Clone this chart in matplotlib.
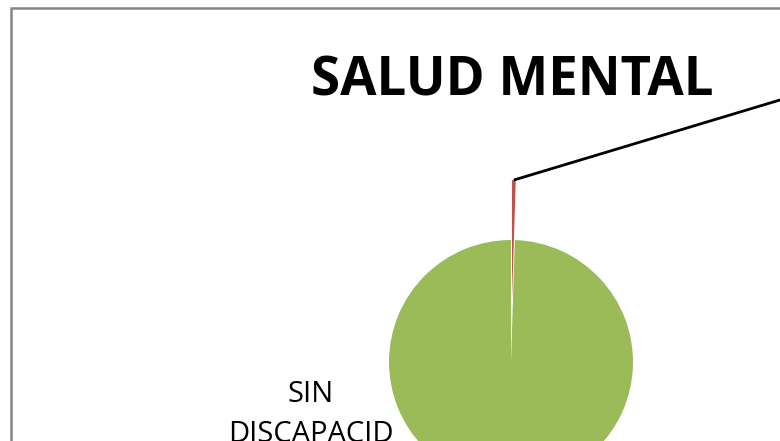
import numpy as np
import matplotlib.pyplot as plt
from matplotlib.patches import Rectangle

# datos del gráfico (porcentaje)
categorias = ["CON DISCAPACIDAD", "SIN DISCAPACIDAD"]
valores = [0.5, 99.5]
colores = ["#C0504D", "#9BBB59"]
titulo = "SALUD MENTAL"
etiqueta_sin = "SIN\nDISCAPACID\nAD"

W, H = 780, 441
fig = plt.figure(figsize=(W / 100, H / 100), dpi=100)
ax = fig.add_axes([0, 0, 1, 1])

centro = (511, H - 362)
radio = 122
separacion = 60  # en unidades de datos (pixeles)

wedges, _ = ax.pie(valores, colors=colores, startangle=90, counterclock=False,
                   center=centro, radius=radio, explode=[separacion, 0],
                   wedgeprops=dict(linewidth=0), frame=True)

ax.set_xlim(0, W)
ax.set_ylim(0, H)
ax.set_aspect('equal')
ax.axis('off')

# linea guia desde la porcion roja hacia su etiqueta (fuera del recorte)
w = wedges[0]
ang = np.deg2rad((w.theta1 + w.theta2) / 2)
cx, cy = w.center
x0 = cx + w.r * np.cos(ang)
y0 = cy + w.r * np.sin(ang)
ax.plot([x0, x0 + 300], [y0, y0 + 300 * 80 / 266], color='black', lw=2,
        solid_capstyle='butt', clip_on=True)

ax.text(311, H - 380, etiqueta_sin, ha='center', va='top', fontsize=21,
        family='Open Sans', linespacing=1.5)

fig.text(512 / W, 1 - 96 / H, titulo, ha='center', va='baseline',
         fontsize=38, fontweight='bold', family='Open Sans')

# marco del area del grafico
fig.patches.append(Rectangle((11 / W, -0.2), 1.2, 1.2 - 8 / H, transform=fig.transFigure,
                             fill=False, edgecolor='#868686', lw=1.8, figure=fig))

fig.savefig('out.png', dpi=100)
